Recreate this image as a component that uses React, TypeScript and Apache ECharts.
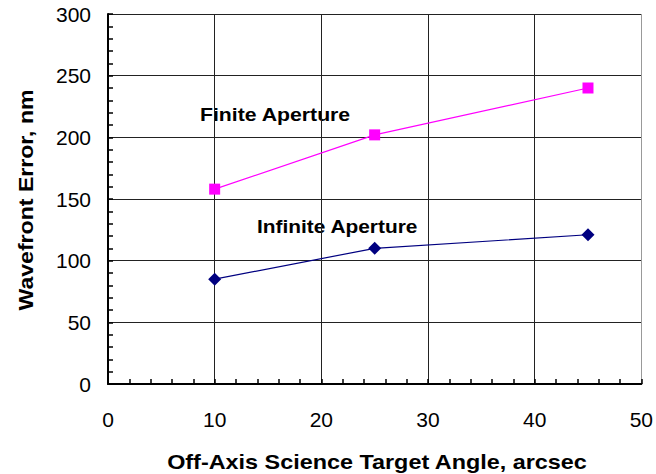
import React, { useEffect, useRef } from "react";
import * as echarts from "echarts";

const angles = [10, 25, 45];
const finiteAperture = [158, 202, 240];
const infiniteAperture = [85, 110, 121];
const xTickValues = [0, 10, 20, 30, 40, 50];
const yTickValues = [0, 50, 100, 150, 200, 250, 300];
const xTitle = "Off-Axis Science Target Angle, arcsec";
const yTitle = "Wavefront Error, nm";
const finiteLabel = "Finite Aperture";
const infiniteLabel = "Infinite Aperture";

const FONT = "'Liberation Sans', Arial, Helvetica, sans-serif";

export default function App() {
  const ref = useRef<HTMLDivElement>(null);
  useEffect(() => {
    if (!ref.current) return;
    const chart = echarts.init(ref.current, null, { renderer: "svg" });
    chart.setOption({
      animation: false,
      backgroundColor: "#fff",
      grid: { left: 108, right: 11, top: 14, bottom: 90 },
      xAxis: {
        type: "value",
        min: xTickValues[0],
        max: xTickValues[xTickValues.length - 1],
        interval: 10,
        axisLine: { show: true, onZero: false, lineStyle: { color: "#000", width: 2 } },
        axisTick: { show: true, inside: true, length: 5, lineStyle: { color: "#000", width: 1.5 } },
        minorTick: { show: true, splitNumber: 5, length: 5, lineStyle: { color: "#000", width: 1.5 } },
        splitLine: {
          show: true,
          lineStyle: { color: ["#000", "#222", "#222", "#222", "#222", "#999"], width: 1 },
        },
        axisLabel: { color: "#000", fontSize: 21, fontFamily: FONT, margin: 25 },
      },
      yAxis: {
        type: "value",
        min: yTickValues[0],
        max: yTickValues[yTickValues.length - 1],
        interval: 50,
        axisLine: { show: true, onZero: false, lineStyle: { color: "#000", width: 2 } },
        axisTick: { show: true, inside: true, length: 5, lineStyle: { color: "#000", width: 1.5 } },
        minorTick: { show: true, splitNumber: 5, length: 5, lineStyle: { color: "#000", width: 1.5 } },
        splitLine: { show: true, lineStyle: { color: "#222", width: 1 } },
        axisLabel: { color: "#000", fontSize: 21, fontFamily: FONT, margin: 17 },
      },
      graphic: [
        {
          type: "text",
          x: 377,
          y: 462,
          scaleX: 1.17,
          style: {
            text: xTitle,
            font: `bold 20px ${FONT}`,
            fill: "#000",
            align: "center",
            verticalAlign: "middle",
          },
        },
        {
          type: "text",
          x: 26,
          y: 200,
          rotation: Math.PI / 2,
          scaleX: 1.1,
          style: {
            text: yTitle,
            font: `bold 21px ${FONT}`,
            fill: "#000",
            align: "center",
            verticalAlign: "middle",
          },
        },
        {
          type: "text",
          x: 200,
          y: 115,
          scaleX: 1.18,
          style: {
            text: finiteLabel,
            font: `bold 18px ${FONT}`,
            fill: "#000",
            align: "left",
            verticalAlign: "middle",
          },
        },
        {
          type: "text",
          x: 257,
          y: 227,
          scaleX: 1.16,
          style: {
            text: infiniteLabel,
            font: `bold 18px ${FONT}`,
            fill: "#000",
            align: "left",
            verticalAlign: "middle",
          },
        },
      ],
      series: [
        {
          name: finiteLabel,
          type: "line",
          data: angles.map((a, i) => [a, finiteAperture[i]]),
          symbol: "rect",
          symbolSize: 11,
          lineStyle: { color: "#ff00ff", width: 1.2 },
          itemStyle: { color: "#ff00ff" },
          z: 5,
        },
        {
          name: infiniteLabel,
          type: "line",
          data: angles.map((a, i) => [a, infiniteAperture[i]]),
          symbol: "diamond",
          symbolSize: [13, 13],
          lineStyle: { color: "#000080", width: 1.2 },
          itemStyle: { color: "#000080" },
          z: 5,
        },
      ],
    });
    return () => chart.dispose();
  }, []);
  return <div ref={ref} style={{ position: "absolute", left: 0, top: 0, width: 656, height: 474 }} />;
}
